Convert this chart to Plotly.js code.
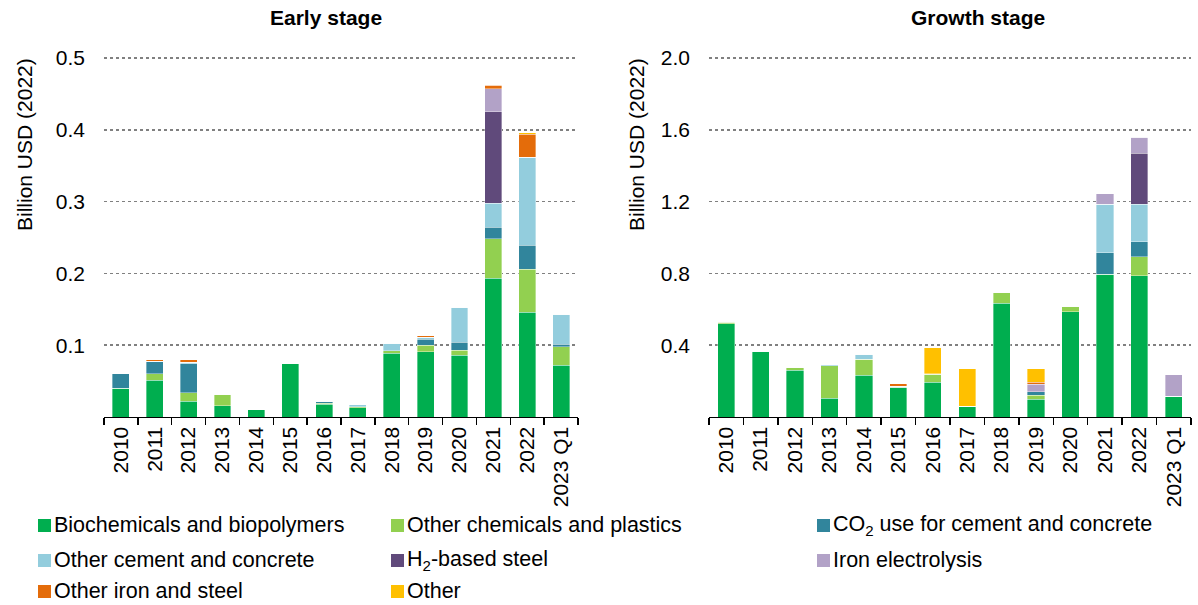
<!DOCTYPE html>
<html>
<head>
<meta charset="utf-8">
<script src="https://cdn.plot.ly/plotly-3.0.1.min.js"></script>
<style>html,body{margin:0;padding:0;background:#fff;}#chart{width:1198px;height:605px;}</style>
</head>
<body>
<div id="chart"></div>
<script>
const categories = ["2010","2011","2012","2013","2014","2015","2016","2017","2018","2019","2020","2021","2022","2023 Q1"];

const seriesNames = [
  "Biochemicals and biopolymers",
  "Other chemicals and plastics",
  "CO<sub>2</sub> use for cement and concrete",
  "Other cement and concrete",
  "H<sub>2</sub>-based steel",
  "Iron electrolysis",
  "Other iron and steel",
  "Other"
];
const seriesColors = ["#00ae4f","#92d050","#31859c","#93cddd","#604a7b","#b2a2c7","#e46c0a","#ffc000"];

// Early stage (billion USD 2022)
const earlyBio         = [0.040,0.051,0.022,0.016,0.010,0.074,0.018,0.013,0.089,0.091,0.086,0.193,0.146,0.072];
const earlyOtherChem   = [0.000,0.009,0.012,0.015,0.000,0.000,0.001,0.001,0.003,0.009,0.007,0.055,0.060,0.026];
const earlyCO2         = [0.020,0.018,0.040,0.000,0.000,0.000,0.002,0.000,0.000,0.008,0.011,0.016,0.033,0.003];
const earlyOtherCement = [0.000,0.000,0.002,0.001,0.000,0.000,0.001,0.003,0.011,0.003,0.049,0.034,0.123,0.042];
const earlyH2Steel     = [0,0,0,0,0,0,0,0,0,0,0,0.127,0,0];
const earlyIronElec    = [0,0,0,0,0,0,0,0,0,0,0,0.032,0,0];
const earlyOtherIron   = [0,0.002,0.004,0,0,0,0,0,0,0.002,0,0.005,0.032,0];
const earlyOther       = [0,0,0,0,0,0,0,0,0,0,0,0,0.002,0];

// Growth stage (billion USD 2022)
const growthBio         = [0.520,0.366,0.261,0.104,0.233,0.166,0.194,0.061,0.633,0.098,0.586,0.795,0.786,0.115];
const growthOtherChem   = [0.007,0.000,0.015,0.181,0.089,0.000,0.045,0.000,0.063,0.024,0.032,0.000,0.107,0.000];
const growthCO2         = [0,0,0,0,0,0.006,0,0,0,0.020,0,0.119,0.082,0];
const growthOtherCement = [0.006,0,0,0.007,0.029,0,0.003,0,0,0,0,0.270,0.211,0];
const growthH2Steel     = [0,0,0,0,0,0,0,0,0,0,0,0,0.283,0];
const growthIronElec    = [0,0,0,0,0,0,0,0,0,0.041,0,0.061,0.089,0.120];
const growthOtherIron   = [0,0,0,0,0,0.013,0,0,0,0.011,0,0,0,0];
const growthOther       = [0,0,0,0,0,0,0.143,0.209,0,0.076,0,0,0,0];

const earlyTicks  = [0.1,0.2,0.3,0.4,0.5];
const earlyTickText  = ["0.1","0.2","0.3","0.4","0.5"];
const growthTicks = [0.4,0.8,1.2,1.6,2.0];
const growthTickText = ["0.4","0.8","1.2","1.6","2.0"];

const earlySeries  = [earlyBio,earlyOtherChem,earlyCO2,earlyOtherCement,earlyH2Steel,earlyIronElec,earlyOtherIron,earlyOther];
const growthSeries = [growthBio,growthOtherChem,growthCO2,growthOtherCement,growthH2Steel,growthIronElec,growthOtherIron,growthOther];

const FONT = "'Liberation Sans', Arial, sans-serif";
const traces = [];
seriesNames.forEach((name, i) => {
  traces.push({
    type: "bar", x: categories, y: earlySeries[i], name: name,
    marker: {color: seriesColors[i], line: {width: 0.6, color: "rgba(255,255,255,0.6)"}},
    xaxis: "x", yaxis: "y", showlegend: false, hoverinfo: "skip"
  });
  traces.push({
    type: "bar", x: categories, y: growthSeries[i], name: name,
    marker: {color: seriesColors[i], line: {width: 0.6, color: "rgba(255,255,255,0.6)"}},
    xaxis: "x2", yaxis: "y2", showlegend: false, hoverinfo: "skip"
  });
});

const W = 1198, H = 605;
const px = v => v / W;
const py = v => (H - v) / H;
const TOP = 56, BASE = 417, GRIDTOP = 58;
const stretch = (BASE - TOP) / (BASE - GRIDTOP);

const xaxisBase = {
  type: "category", showline: true, linecolor: "#000", linewidth: 1.3,
  ticks: "outside", tickson: "boundaries", ticklen: 7, tickcolor: "#000", tickwidth: 1.3,
  tickangle: -90, tickfont: {size: 21, color: "#000", family: FONT},
  showgrid: false, fixedrange: true, automargin: false
};
const yaxisBase = {
  showline: false, ticks: "", zeroline: false,
  showgrid: true, gridcolor: "#808080", gridwidth: 1.6, griddash: "dot",
  tickfont: {size: 21, color: "#000", family: FONT},
  ticklabelstandoff: 18, fixedrange: true, automargin: false
};

// Manual legend (3 columns x 3 rows), swatch + text
const legendCols = [0, 1, 2, 0, 1, 2, 0, 1];
const legendRows = [0, 0, 0, 1, 1, 1, 2, 2];
const colSwatchX = [38, 391, 817];
const rowCenterY = [525, 560, 591];
const shapes = [];
const annotations = [];
seriesNames.forEach((name, i) => {
  const sx = colSwatchX[legendCols[i]], cy = rowCenterY[legendRows[i]];
  shapes.push({type: "rect", xref: "paper", yref: "paper",
    x0: px(sx), x1: px(sx + 13), y0: py(cy + 7), y1: py(cy - 6),
    fillcolor: seriesColors[i], line: {width: 0}});
  annotations.push({text: name, xref: "paper", yref: "paper", x: px(sx + 15), y: py(cy),
    xanchor: "left", yanchor: "middle", showarrow: false, borderpad: 0,
    font: {size: 21.5, color: "#000", family: FONT}});
});

annotations.push(
  {text: "<b>Early stage</b>", xref: "paper", yref: "paper", x: px(326), y: py(17),
   xanchor: "center", yanchor: "middle", showarrow: false, font: {size: 21, color: "#000", family: FONT}},
  {text: "<b>Growth stage</b>", xref: "paper", yref: "paper", x: px(978), y: py(17),
   xanchor: "center", yanchor: "middle", showarrow: false, font: {size: 21, color: "#000", family: FONT}},
  {text: "Billion USD (2022)", xref: "paper", yref: "paper", x: px(24), y: py(145), textangle: -90,
   xanchor: "center", yanchor: "middle", showarrow: false, font: {size: 21, color: "#000", family: FONT}},
  {text: "Billion USD (2022)", xref: "paper", yref: "paper", x: px(636), y: py(145), textangle: -90,
   xanchor: "center", yanchor: "middle", showarrow: false, font: {size: 21, color: "#000", family: FONT}}
);

const layout = {
  width: W, height: H,
  margin: {l: 0, r: 0, t: 0, b: 0},
  paper_bgcolor: "#fff", plot_bgcolor: "#fff",
  font: {family: FONT, color: "#000"},
  barmode: "stack", bargap: 0.5, showlegend: false,
  xaxis: Object.assign({}, xaxisBase, {domain: [px(104), px(578)], anchor: "y"}),
  xaxis2: Object.assign({}, xaxisBase, {domain: [px(709), px(1191)], anchor: "y2"}),
  yaxis: Object.assign({}, yaxisBase, {domain: [py(BASE), py(TOP)], range: [0, 0.5 * stretch], anchor: "x",
    tickvals: earlyTicks, ticktext: earlyTickText}),
  yaxis2: Object.assign({}, yaxisBase, {domain: [py(BASE), py(TOP)], range: [0, 2.0 * stretch], anchor: "x2",
    tickvals: growthTicks, ticktext: growthTickText}),
  shapes: shapes,
  annotations: annotations,
  hovermode: false
};

Plotly.newPlot("chart", traces, layout, {displayModeBar: false, staticPlot: true});
</script>
</body>
</html>
